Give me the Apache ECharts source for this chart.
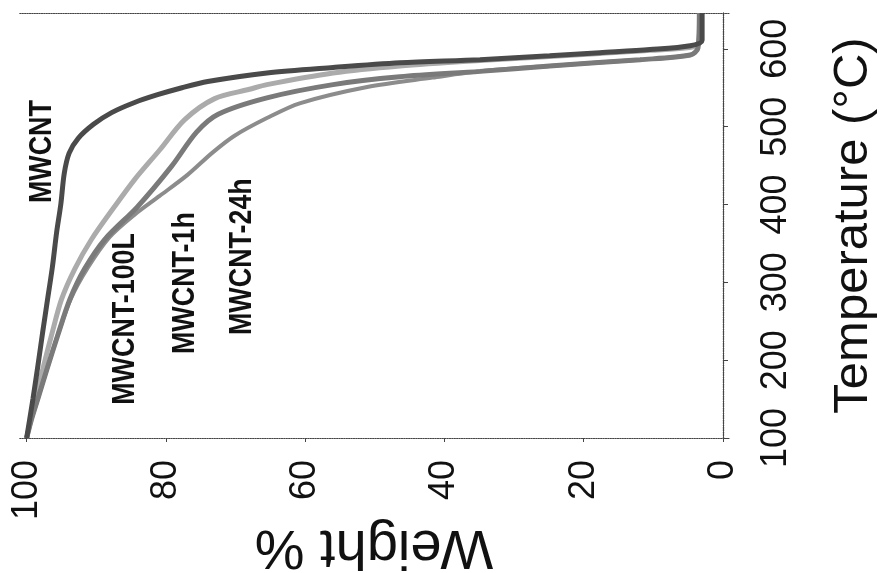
<!DOCTYPE html>
<html><head><meta charset="utf-8">
<script src="https://cdn.jsdelivr.net/npm/echarts@6/dist/echarts.min.js"></script>
<style>html,body{margin:0;padding:0;background:#fff}#c{width:888px;height:573px}</style>
</head><body><div id="c"></div>
<script>
// Data: [weight %, temperature °C]
const seriesNames = ['MWCNT', 'MWCNT-100L', 'MWCNT-1h', 'MWCNT-24h'];
const mwcnt = [[100.0,100],[99.1,150],[98.4,192],[97.7,236],[97.0,278],[96.3,320],[95.7,364],[95.1,400],[94.6,440],[93.9,466],[92.6,485],[90.4,503],[87.8,518],[84.5,531],[81.2,541],[77.7,550],[74.0,558],[65.5,569],[56.0,576],[46.4,582],[34.9,586],[24.9,591],[17.7,595],[10.5,599],[4.7,604],[3.0,611],[3.0,646]];
const mwcnt100L = [[100.0,100],[99.4,124],[98.7,150],[97.7,188],[96.4,233],[95.0,278],[93.1,317],[90.7,355],[87.4,397],[84.5,432],[80.9,470],[77.3,509],[73.0,536],[68.0,548],[65.5,554],[56.0,569],[46.4,578],[34.9,585],[24.9,590],[17.7,594],[10.5,598],[4.0,603],[3.2,611],[3.2,646]];
const mwcnt1h = [[100.0,100],[99.3,124],[98.4,150],[97.1,188],[95.5,233],[93.8,278],[91.7,317],[88.8,355],[84.1,397],[79.2,449],[75.6,493],[72.5,516],[65.5,537],[56.0,554],[46.4,564],[34.9,571],[24.9,578],[11.9,586],[4.7,592],[3.6,601],[3.4,646]];
const mwcnt24h = [[100.0,100],[99.3,124],[98.4,150],[97.1,188],[95.5,233],[93.7,278],[91.2,319],[88.1,358],[84.5,387],[80.9,411],[76.9,438],[73.4,466],[70.2,488],[65.5,511],[60.8,530],[51.1,551],[41.7,563],[34.9,571],[24.9,578],[11.9,586],[4.7,592],[3.6,601],[3.4,646]];
const weightTicks = [0, 20, 40, 60, 80, 100];
const temperatureTicks = [100, 200, 300, 400, 500, 600];

const FONT = "'Liberation Sans',Arial,sans-serif";
const xMin = -0.86, xMax = 101.1, yMin = 100, yMax = 646;
const frameLine = {show: true, lineStyle: {color: '#444', width: 1.2, type: 'dotted'}};

const chart = echarts.init(document.getElementById('c'), null, {renderer: 'canvas'});

const lineStyles = [
  {color: '#4a4a4a', width: 5},
  {color: '#ababab', width: 5},
  {color: '#7a7a7a', width: 5},
  {color: '#8c8c8c', width: 4}
];
const datasets = [mwcnt, mwcnt100L, mwcnt1h, mwcnt24h];
// label anchors in data coords [weight, temperature]
const labelAnchors = [[97.8, 468], [85.9, 253], [77.3, 299], [69.1, 333]];

const drawOrder = [1, 3, 2, 0];
const series = drawOrder.map(i => ({
  name: seriesNames[i],
  type: 'line',
  xAxisIndex: 0, yAxisIndex: 0,
  data: datasets[i],
  showSymbol: false,
  smooth: 0.3,
  lineStyle: lineStyles[i],
  z: 3
}));

chart.setOption({
  animation: false,
  backgroundColor: '#fff',
  grid: {left: 19, right: 159, top: 13, bottom: 135, containLabel: false, outerBoundsMode: 'none'},
  xAxis: [
    {type: 'value', inverse: true, min: xMin, max: xMax, position: 'bottom',
     axisLine: frameLine,
     axisTick: {show: true, length: 4, customValues: weightTicks, lineStyle: {color: '#444'}},
     axisLabel: {customValues: weightTicks, rotate: 90, margin: 22, fontFamily: FONT, fontSize: 36, color: '#111'},
     splitLine: {show: false},
     name: 'Weight %', nameLocation: 'middle', nameRotate: 180, nameGap: 80, nameMoveOverlap: false,
     nameTextStyle: {fontFamily: FONT, fontSize: 56, color: '#111'}},
    {type: 'value', inverse: true, min: xMin, max: xMax, position: 'top',
     axisLine: frameLine, axisTick: {show: false}, axisLabel: {show: false}, splitLine: {show: false}}
  ],
  yAxis: [
    {type: 'value', min: yMin, max: yMax, position: 'right',
     axisLine: frameLine,
     axisTick: {show: true, length: 5, customValues: temperatureTicks, lineStyle: {color: '#444'}},
     axisLabel: {customValues: temperatureTicks, rotate: 90, margin: 29, fontFamily: FONT, fontSize: 36, color: '#111'},
     splitLine: {show: false},
     name: 'Temperature (°C)', nameLocation: 'middle', nameRotate: 90, nameGap: 100, nameMoveOverlap: false,
     nameTextStyle: {fontFamily: FONT, fontSize: 49, color: '#111'}},
    {type: 'value', min: yMin, max: yMax, position: 'left',
     axisLine: frameLine, axisTick: {show: false}, axisLabel: {show: false}, splitLine: {show: false}}
  ],
  series: series
});

const graphics = labelAnchors.map((a, i) => {
  const p = chart.convertToPixel({gridIndex: 0}, a);
  return {
    type: 'text', x: p[0], y: p[1], rotation: Math.PI / 2, scaleX: 0.84, z: 10,
    style: {text: seriesNames[i], textAlign: 'center', textVerticalAlign: 'middle',
            font: "bold 32px " + FONT, fill: '#111'}
  };
});
chart.setOption({graphic: graphics});
</script>
</body></html>
